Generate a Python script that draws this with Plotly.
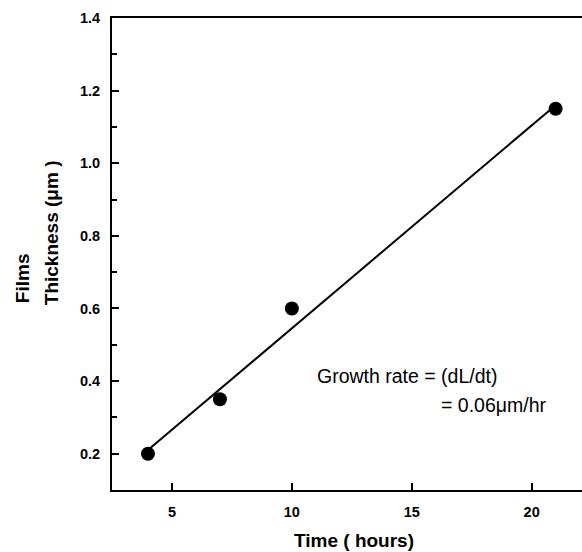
import plotly.graph_objects as go

time_hours = [4, 7, 10, 21]
thickness_um = [0.2, 0.35, 0.6, 1.15]
fit_x = [4, 21]
fit_y = [0.21, 1.16]
x_ticks = [5, 10, 15, 20]
y_ticks = [0.2, 0.4, 0.6, 0.8, 1.0, 1.2, 1.4]

fig = go.Figure()
fig.add_trace(go.Scatter(x=fit_x, y=fit_y, mode="lines",
                         line=dict(color="black", width=2), showlegend=False))
fig.add_trace(go.Scatter(x=time_hours, y=thickness_um, mode="markers",
                         marker=dict(color="black", size=14), showlegend=False))

FAM = "Liberation Sans, Arial, sans-serif"
font_tick = dict(family=FAM, size=14.5, color="black")
fig.update_layout(
    width=582, height=552,
    margin=dict(l=112, r=0, t=18, b=62),
    paper_bgcolor="white", plot_bgcolor="white",
    font=dict(family=FAM, color="black"),
    xaxis=dict(range=[2.5, 22.1], tickvals=x_ticks, ticktext=["<b>%g</b>" % v for v in x_ticks],
               ticks="inside", ticklen=7, tickwidth=1.5, tickcolor="black",
               showline=True, linecolor="black", linewidth=2, mirror=True,
               showgrid=False, zeroline=False, tickfont=font_tick, ticklabelstandoff=8),
    yaxis=dict(range=[0.1, 1.4], tickvals=y_ticks, ticktext=["<b>%.1f</b>" % v for v in y_ticks],
               ticks="inside", ticklen=7, tickwidth=1.5, tickcolor="black",
               minor=dict(dtick=0.1, tick0=0.1, ticks="inside", ticklen=5, tickcolor="black", tickwidth=1.5),
               showline=True, linecolor="black", linewidth=2, mirror=False,
               showgrid=False, zeroline=False, tickfont=font_tick, ticklabelstandoff=7),
)

ann_font = dict(family=FAM, size=19, color="black")
fig.add_annotation(text="<b>Time ( hours)</b>", xref="paper", yref="paper", x=0.515, y=-0.106,
                   xanchor="center", yanchor="middle", showarrow=False, font=ann_font)
fig.add_annotation(text="<b>Films</b>", xref="paper", yref="paper", x=-0.189, y=0.392,
                   xanchor="center", yanchor="bottom", textangle=-90, showarrow=False, font=ann_font)
fig.add_annotation(text="<b>Thickness (μm )</b>", xref="paper", yref="paper", x=-0.128, y=0.388,
                   xanchor="center", yanchor="bottom", textangle=-90, showarrow=False, font=ann_font)
fig.add_annotation(text="Growth rate = (dL/dt)", xref="paper", yref="paper", x=0.432, y=0.2415,
                   xanchor="left", yanchor="middle", showarrow=False,
                   font=dict(family=FAM, size=19.5, color="black"))
fig.add_annotation(text="= 0.06μm/hr", xref="paper", yref="paper", x=0.93, y=0.180,
                   xanchor="right", yanchor="middle", showarrow=False,
                   font=dict(family=FAM, size=19.5, color="black"))

fig.write_html("out.html", config={"displayModeBar": False},
               post_script="document.body.style.margin='0';document.body.style.padding='0';")
